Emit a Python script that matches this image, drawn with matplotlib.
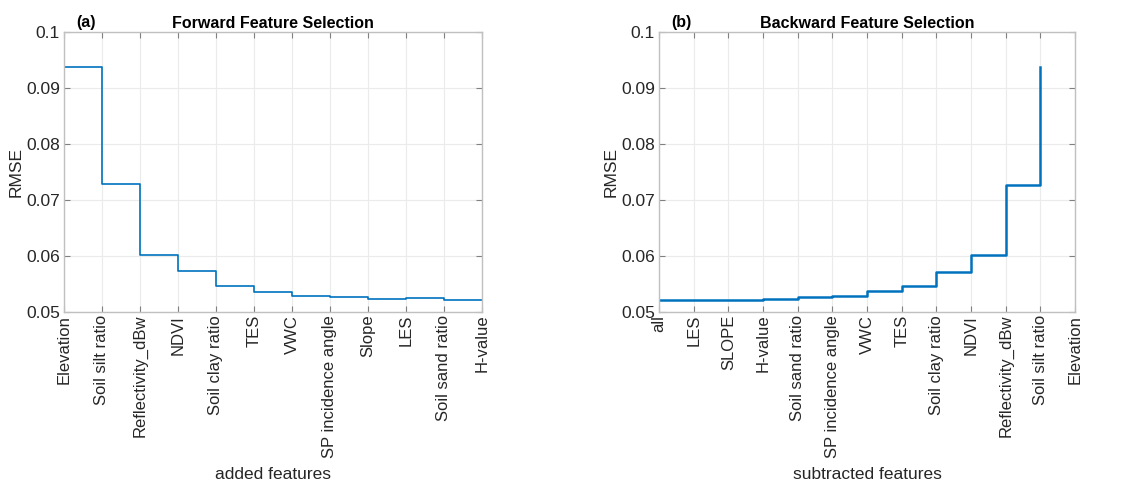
import numpy as np
import matplotlib.pyplot as plt

plt.rcParams['font.family'] = ['Liberation Sans', 'DejaVu Sans']

# forward selection
fwd_labels = ['Elevation', 'Soil silt ratio', 'Reflectivity_dBw', 'NDVI', 'Soil clay ratio',
              'TES', 'VWC', 'SP incidence angle', 'Slope', 'LES', 'Soil sand ratio', 'H-value']
fwd_rmse = [0.0938, 0.0729, 0.0601, 0.0574, 0.0547, 0.0535, 0.0529, 0.0526,
            0.0523, 0.0525, 0.0522, 0.0522]

# backward selection
bwd_labels = ['all', 'LES', 'SLOPE', 'H-value', 'Soil sand ratio', 'SP incidence angle', 'VWC',
              'TES', 'Soil clay ratio', 'NDVI', 'Reflectivity_dBw', 'Soil silt ratio', 'Elevation']
bwd_rmse = [0.0521, 0.0521, 0.0521, 0.0523, 0.0526, 0.0529, 0.0538, 0.0547,
            0.0572, 0.0601, 0.0727, 0.0937]

line_color = '#0072BD'

fig = plt.figure(figsize=(11.26, 4.82), dpi=100)
ax1 = fig.add_axes([0.0568, 0.3527, 0.3712, 0.5809])
ax2 = fig.add_axes([0.5853, 0.3527, 0.3694, 0.5809])


def style_axes(ax, labels, xlabel, title, tag):
    ax.set_xlim(0, len(labels) - 1)
    ax.set_ylim(0.05, 0.1)
    ax.set_xticks(np.arange(len(labels)))
    ax.set_xticklabels(labels, rotation=90, fontsize=12, color='#262626')
    ax.set_yticks([0.05, 0.06, 0.07, 0.08, 0.09, 0.1])
    ax.set_yticklabels(['0.05', '0.06', '0.07', '0.08', '0.09', '0.1'], fontsize=12.5, color='#262626')
    ax.tick_params(direction='in', length=4, color='#808080', top=True, right=True, pad=3)
    ax.tick_params(axis='x', pad=2)
    for s in ax.spines.values():
        s.set_color('#c0c0c0')
        s.set_linewidth(1.0)
    ax.grid(True, color='#ebebeb', linewidth=0.8)
    ax.set_axisbelow(True)
    ax.set_ylabel('RMSE', fontsize=12.5, color='#262626', labelpad=2)
    ax.set_xlabel(xlabel, fontsize=12.5, color='#262626', labelpad=7)
    ax.set_title(title, fontsize=11.5, fontweight='bold', pad=3)
    ax.text(0.03, 1.008, tag, transform=ax.transAxes, fontsize=11.5, fontweight='bold',
            ha='left', va='bottom')


ax1.step(np.arange(len(fwd_rmse)), fwd_rmse, where='post', color=line_color, lw=1.2)
style_axes(ax1, fwd_labels, 'added features', 'Forward Feature Selection', '(a)')

ax2.step(np.arange(len(bwd_rmse)), bwd_rmse, where='post', color=line_color, lw=1.8)
style_axes(ax2, bwd_labels, 'subtracted features', 'Backward Feature Selection', '(b)')

fig.savefig('out.png', dpi=100)
